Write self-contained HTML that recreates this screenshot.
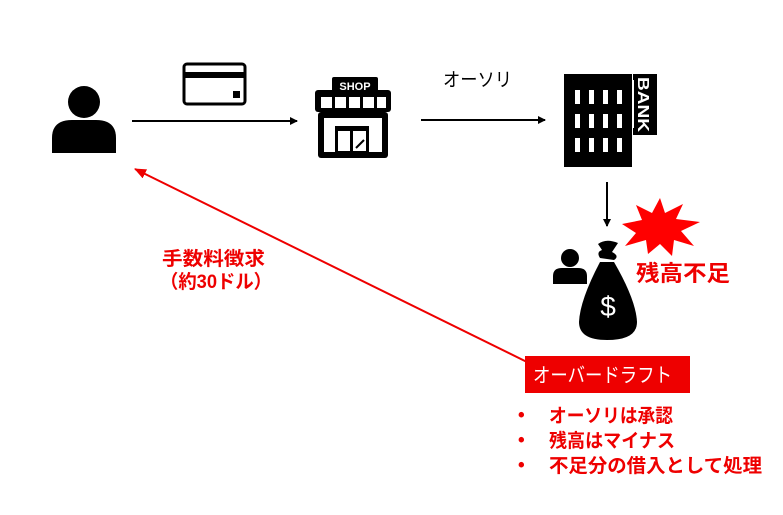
<!DOCTYPE html>
<html><head><meta charset="utf-8"><style>
html,body{margin:0;padding:0;background:#fff;}
svg{display:block;}
text{font-family:"Liberation Sans","Noto Sans CJK JP",sans-serif;}
</style></head><body>
<svg width="783" height="515" viewBox="0 0 783 515" xmlns="http://www.w3.org/2000/svg">
<defs>
<marker id="ab" markerWidth="8" markerHeight="8" refX="7" refY="4" orient="auto" markerUnits="userSpaceOnUse"><path d="M0,0 L8,4 L0,8 z" fill="#000"/></marker>
<marker id="ar" markerWidth="12" markerHeight="10" refX="11" refY="5" orient="auto" markerUnits="userSpaceOnUse"><path d="M0,0 L12,5 L0,10 z" fill="#e00"/></marker>
</defs>
<!-- person -->
<circle cx="84" cy="102" r="16" fill="#000"/>
<path d="M52,153 L52,138 Q52,120 72,120 L96,120 Q116,120 116,138 L116,153 Z" fill="#000"/>
<!-- card -->
<rect x="184" y="64" width="61" height="40" rx="3" fill="#fff" stroke="#000" stroke-width="3"/>
<rect x="184" y="72" width="61" height="6" fill="#000"/>
<rect x="233" y="91" width="7" height="7" fill="#000"/>
<line x1="132" y1="121" x2="297" y2="121" stroke="#000" stroke-width="2" marker-end="url(#ab)"/>
<!-- shop -->
<rect x="332" y="77" width="46" height="16" rx="2" fill="#000"/>
<text x="355" y="90" font-size="11" font-weight="bold" fill="#fff" text-anchor="middle">SHOP</text>
<rect x="315" y="90" width="76" height="22" rx="3" fill="#000"/>
<rect x="321" y="97" width="11" height="11" fill="#fff"/><rect x="335" y="97" width="11" height="11" fill="#fff"/><rect x="349" y="97" width="11" height="11" fill="#fff"/><rect x="363" y="97" width="11" height="11" fill="#fff"/><rect x="377" y="97" width="9" height="11" fill="#fff"/>
<rect x="318" y="112" width="70" height="46" rx="3" fill="#000"/>
<rect x="324" y="118" width="58" height="34" fill="#fff"/>
<rect x="335" y="126" width="34" height="26" fill="#000"/>
<rect x="338" y="131" width="12" height="20" fill="#fff"/><rect x="353" y="131" width="13" height="20" fill="#fff"/>
<line x1="356" y1="148" x2="364" y2="140" stroke="#000" stroke-width="2"/>
<!-- authorization -->
<text x="443" y="86" font-size="19" fill="#000" textLength="69" lengthAdjust="spacingAndGlyphs">オーソリ</text>
<line x1="421" y1="120" x2="545" y2="120" stroke="#000" stroke-width="2" marker-end="url(#ab)"/>
<!-- bank -->
<rect x="564" y="74" width="68" height="93" fill="#000"/>
<g fill="#fff">
<rect x="575" y="90" width="5" height="14"/><rect x="589" y="90" width="5" height="14"/><rect x="603" y="90" width="5" height="14"/><rect x="617" y="90" width="5" height="14"/>
<rect x="575" y="114" width="5" height="14"/><rect x="589" y="114" width="5" height="14"/><rect x="603" y="114" width="5" height="14"/><rect x="617" y="114" width="5" height="14"/>
<rect x="575" y="138" width="5" height="14"/><rect x="589" y="138" width="5" height="14"/><rect x="603" y="138" width="5" height="14"/><rect x="617" y="138" width="5" height="14"/>
</g>
<rect x="633" y="74" width="24" height="61" fill="#000"/>
<rect x="632" y="80" width="2" height="48" fill="#fff"/>
<text transform="translate(638,77) rotate(90)" font-size="16" font-weight="bold" fill="#fff" textLength="55" lengthAdjust="spacingAndGlyphs">BANK</text>
<line x1="607" y1="182" x2="607" y2="226" stroke="#000" stroke-width="2" marker-end="url(#ab)"/>
<!-- burst -->
<polygon points="660,198 665,213 683,204 676,219 700,222 681,231 694,246 674,240 672,256 660,244 648,254 646,240 625,246 636,233 622,224 642,220 636,205 652,213" fill="#f00"/>
<text x="636" y="281" font-size="22" font-weight="bold" fill="#e00" textLength="94" lengthAdjust="spacingAndGlyphs">残高不足</text>
<!-- small person -->
<circle cx="570" cy="258" r="9" fill="#000"/>
<path d="M553,284 L553,276 Q553,268 562,268 L578,268 Q587,268 587,276 L587,284 Z" fill="#000"/>
<!-- money bag -->
<path d="M598,244 Q606,238 618,243 L612,252 Q620,256 614,260 L600,258 Q596,252 602,250 Z" fill="#000"/>
<path d="M600,262 L614,262 Q636,300 637,322 Q637,340 607,340 Q579,340 579,322 Q580,300 600,262 Z" fill="#000"/>
<text x="608" y="316" font-size="28" fill="#fff" text-anchor="middle">$</text>
<!-- red arrow -->
<line x1="531" y1="364" x2="135" y2="169" stroke="#e00" stroke-width="2" marker-end="url(#ar)"/>
<text x="162" y="265" font-size="19" font-weight="bold" fill="#e00" textLength="103" lengthAdjust="spacingAndGlyphs">手数料徴求</text>
<text x="160" y="288" font-size="19" font-weight="bold" fill="#e00" textLength="112" lengthAdjust="spacingAndGlyphs">（約30ドル）</text>
<!-- overdraft box -->
<rect x="525" y="356" width="165" height="37" fill="#e00"/>
<text x="533" y="382" font-size="20" fill="#fff" textLength="139" lengthAdjust="spacingAndGlyphs">オーバードラフト</text>
<g font-size="19" font-weight="bold" fill="#e00">
<text x="518" y="421">•</text><text x="549" y="422" textLength="124" lengthAdjust="spacingAndGlyphs">オーソリは承認</text>
<text x="518" y="446">•</text><text x="549" y="447" textLength="126" lengthAdjust="spacingAndGlyphs">残高はマイナス</text>
<text x="518" y="471">•</text><text x="549" y="472" textLength="213" lengthAdjust="spacingAndGlyphs">不足分の借入として処理</text>
</g>
</svg>
</body></html>
